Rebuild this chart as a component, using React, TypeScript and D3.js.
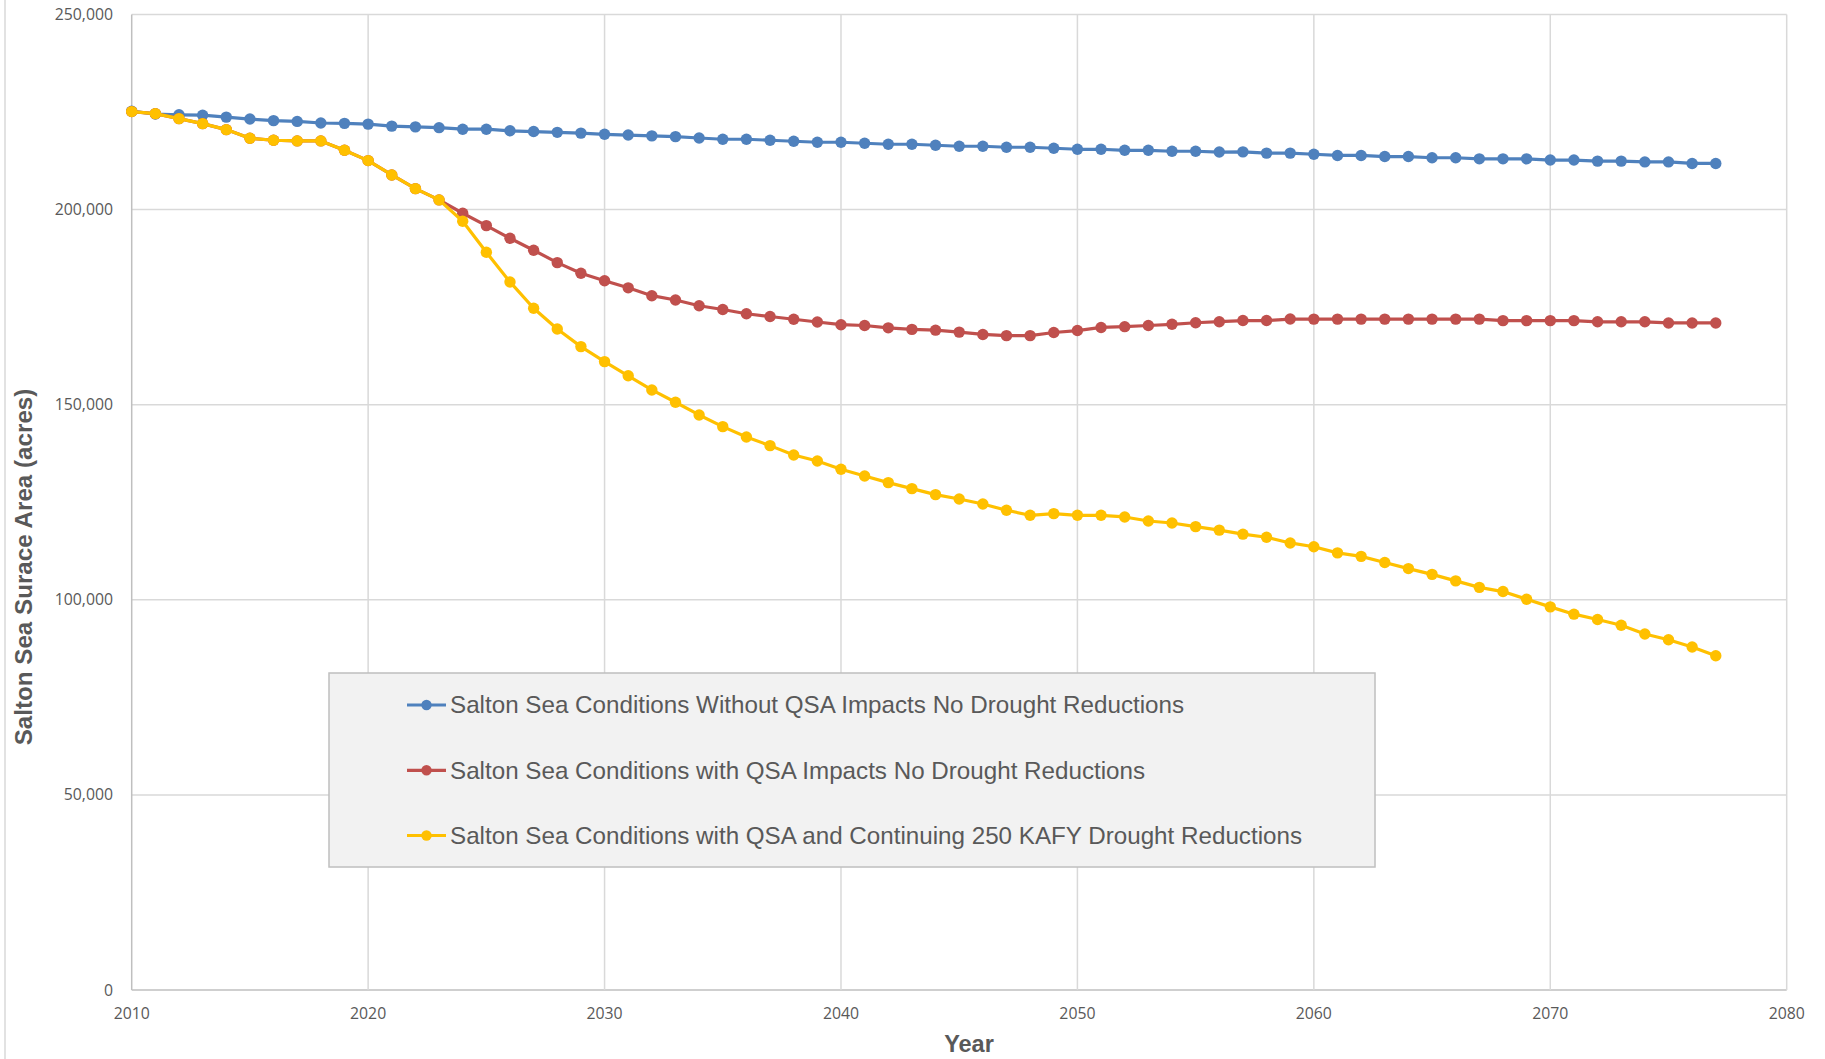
import React from "react";
import * as d3 from "d3";

const years: number[] = d3.range(2010, 2078);

const blueValues: number[] = [
  225200, 224500, 224300, 224200, 223700, 223200, 222800, 222600, 222200, 222100,
  221900, 221400, 221200, 221000, 220600, 220600, 220200, 220000, 219800, 219600,
  219300, 219100, 218900, 218700, 218350, 218030, 218030, 217770, 217510, 217260,
  217260, 217000, 216750, 216750, 216490, 216230, 216230, 215980, 215980, 215720,
  215460, 215460, 215200, 215200, 214950, 214950, 214750, 214800, 214470, 214470,
  214190, 213880, 213880, 213600, 213600, 213290, 213290, 213010, 213010, 213010,
  212700, 212700, 212420, 212420, 212220, 212220, 211830, 211830,
];

const yellowValues: number[] = [
  225120, 224600, 223320, 222040, 220500, 218280, 217770, 217600, 217600, 215210,
  212560, 208880, 205380, 202480, 197010, 189060, 181460, 174710, 169410, 164890,
  161040, 157410, 153780, 150620, 147370, 144380, 141730, 139510, 137120, 135580,
  133450, 131740, 130030, 128490, 126950, 125840, 124560, 122940, 121660, 122080,
  121660, 121660, 121230, 120200, 119690, 118750, 117850, 116820, 116030, 114570,
  113590, 112030, 111130, 109570, 108000, 106520, 104850, 103190, 102110, 100160,
  98190, 96320, 94960, 93470, 91240, 89760, 87910, 85660,
];

const redValues: number[] = [
  225120, 224600, 223320, 222040, 220500, 218280, 217770, 217600, 217600, 215210,
  212560, 208880, 205380, 202480, 199060, 195900, 192650, 189580, 186410, 183680,
  181760, 179950, 177940, 176830, 175350, 174400, 173300, 172600, 171900, 171200,
  170500, 170300, 169700, 169300, 169100, 168600, 168000, 167700, 167700, 168500,
  169000, 169800, 170000, 170300, 170600, 171000, 171270, 171560, 171560, 171950,
  171930, 171930, 171930, 171930, 171930, 171930, 171930, 171930, 171540, 171540,
  171540, 171540, 171240, 171240, 171240, 170950, 170950, 170950,
];

const seriesNames: string[] = [
  "Salton Sea Conditions Without QSA Impacts No Drought Reductions",
  "Salton Sea Conditions with QSA Impacts No Drought Reductions",
  "Salton Sea Conditions with QSA and Continuing 250 KAFY Drought Reductions",
];
const seriesColors: string[] = ["#4F81BD", "#C0504D", "#FFC000"];
const seriesData: number[][] = [blueValues, redValues, yellowValues];

const xTicks: number[] = [2010, 2020, 2030, 2040, 2050, 2060, 2070, 2080];
const yTicks: number[] = [0, 50000, 100000, 150000, 200000, 250000];

const xTitle = "Year";
const yTitle = "Salton Sea Surace Area (acres)";

export default function App() {
  const W = 1825;
  const H = 1059;
  const x = d3.scaleLinear().domain([2010, 2080]).range([131.7, 1786.7]);
  const y = d3.scaleLinear().domain([0, 250000]).range([990, 14.5]);
  const fmt = d3.format(",");
  const textColor = "#595959";
  const gridColor = "#d9d9d9";

  const line = d3
    .line<[number, number]>()
    .x((d) => x(d[0]))
    .y((d) => y(d[1]));

  const legend = { x: 329, y: 673, w: 1046, h: 194, rows: [705, 770.3, 835.5] };

  return (
    <svg
      width={W}
      height={H}
      style={{ position: "absolute", left: 0, top: 0, background: "#fff" }}
    >
      <rect x={0} y={0} width={W} height={H} fill="#fff" />
      <line x1={5} x2={5} y1={0} y2={H} stroke={gridColor} strokeWidth={1.5} />
      {/* grid */}
      {yTicks.map((t) => (
        <line
          key={"gy" + t}
          x1={x(2010)}
          x2={x(2080)}
          y1={y(t)}
          y2={y(t)}
          stroke={t === 0 ? "#bfbfbf" : gridColor}
          strokeWidth={1.5}
        />
      ))}
      {xTicks.map((t) => (
        <line
          key={"gx" + t}
          x1={x(t)}
          x2={x(t)}
          y1={y(250000)}
          y2={y(0)}
          stroke={t === 2010 ? "#bfbfbf" : gridColor}
          strokeWidth={1.5}
        />
      ))}
      {/* tick labels */}
      {yTicks.map((t) => (
        <text
          key={"ty" + t}
          x={113}
          y={y(t)}
          dy="0.35em"
          textAnchor="end"
          fontFamily="'Open Sans', sans-serif"
          fontSize={15.8}
          fill={textColor}
        >
          {fmt(t)}
        </text>
      ))}
      {xTicks.map((t) => (
        <text
          key={"tx" + t}
          x={x(t)}
          y={1013}
          dy="0.35em"
          textAnchor="middle"
          fontFamily="'Open Sans', sans-serif"
          fontSize={15.8}
          fill={textColor}
        >
          {t}
        </text>
      ))}
      {/* axis titles */}
      <text
        x={969}
        y={1052}
        textAnchor="middle"
        fontFamily="'Liberation Sans', Arial, sans-serif"
        fontWeight="bold"
        fontSize={23.5}
        fill={textColor}
      >
        {xTitle}
      </text>
      <text
        transform={`translate(24,567) rotate(-90)`}
        textAnchor="middle"
        dy="0.35em"
        fontFamily="'Liberation Sans', Arial, sans-serif"
        fontWeight="bold"
        fontSize={24.2}
        fill={textColor}
      >
        {yTitle}
      </text>
      {/* series */}
      {seriesData.map((vals, i) => {
        const pts: [number, number][] = years.map((yr, j) => [yr, vals[j]]);
        return (
          <g key={"s" + i}>
            <path
              d={line(pts) || ""}
              fill="none"
              stroke={seriesColors[i]}
              strokeWidth={3.2}
              strokeLinejoin="round"
            />
            {pts.map((p, j) => (
              <circle key={j} cx={x(p[0])} cy={y(p[1])} r={5.7} fill={seriesColors[i]} />
            ))}
          </g>
        );
      })}
      {/* legend */}
      <rect
        x={legend.x}
        y={legend.y}
        width={legend.w}
        height={legend.h}
        fill="#f2f2f2"
        stroke="#bfbfbf"
        strokeWidth={1.5}
      />
      {seriesNames.map((name, i) => (
        <g key={"l" + i}>
          <line
            x1={407}
            x2={446}
            y1={legend.rows[i]}
            y2={legend.rows[i]}
            stroke={seriesColors[i]}
            strokeWidth={3.2}
          />
          <circle cx={426.5} cy={legend.rows[i]} r={5.2} fill={seriesColors[i]} />
          <text
            x={450}
            y={legend.rows[i]}
            dy="0.35em"
            fontFamily="'Liberation Sans', Arial, sans-serif"
            fontSize={24.2}
            fill={textColor}
          >
            {name}
          </text>
        </g>
      ))}
    </svg>
  );
}
